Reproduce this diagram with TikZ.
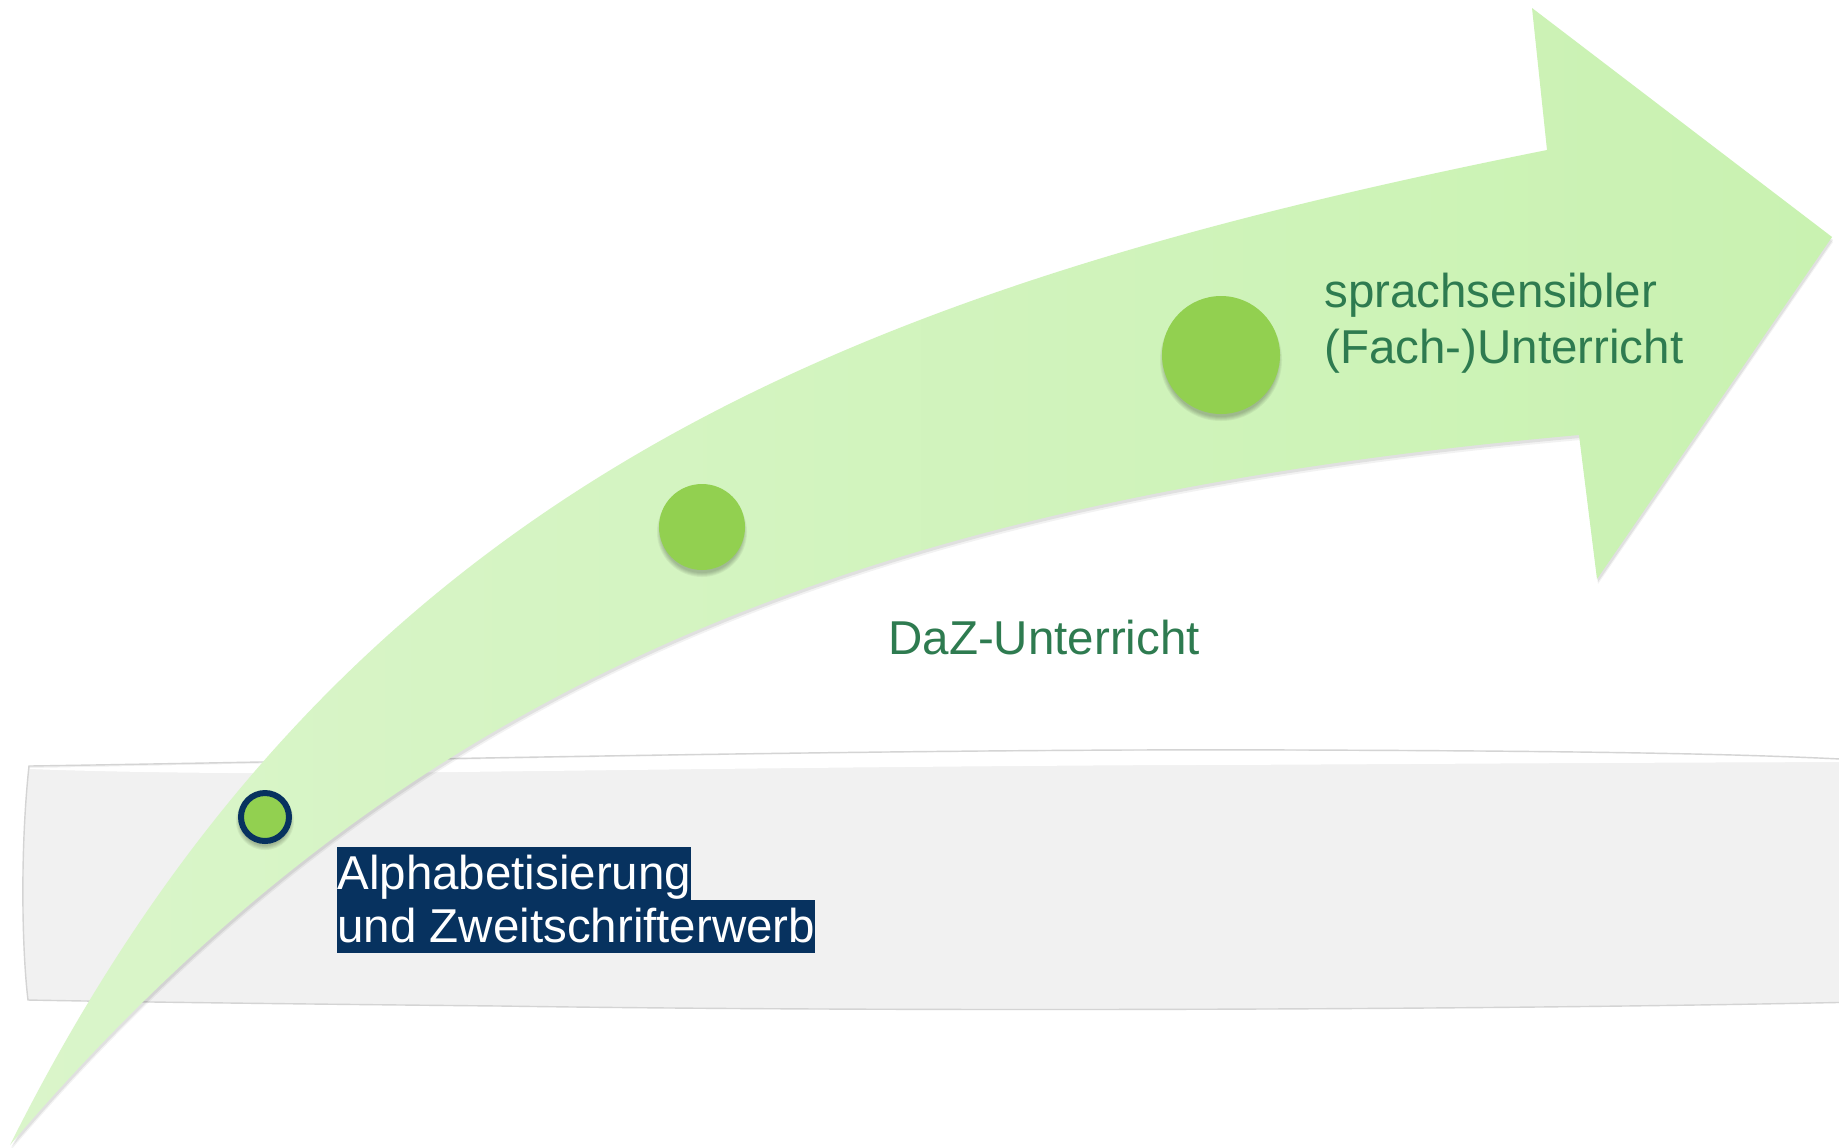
\documentclass[tikz,border=0pt]{standalone}
\usepackage{fontspec}
\setmainfont{Liberation Sans}
\definecolor{navy}{HTML}{07325F}
\definecolor{dotgreen}{HTML}{92D050}
\definecolor{txtgreen}{HTML}{2E7B50}
\definecolor{arrowA}{HTML}{DAF5CA}
\definecolor{arrowB}{HTML}{C9F2B1}
\definecolor{bandfill}{HTML}{F1F1F1}
\definecolor{bandline}{HTML}{D4D4D4}
\begin{document}
\begin{tikzpicture}[x=0.5pt,y=-0.5pt,
  lbl/.style={inner sep=0pt, text=txtgreen, font=\fontsize{23.75pt}{28pt}\selectfont, anchor=base west},
  hl/.style={inner sep=0pt, fill=navy, text=white, text height=21pt, text depth=5.5pt, font=\fontsize{23.75pt}{28pt}\selectfont, anchor=base west},
  dot/.style={circle, inner sep=0pt, fill=dotgreen},
  shade/.style={black, opacity=0.05}
]
\useasboundingbox (0,0) rectangle (1839,1147);
\clip (0,0) rectangle (1839,1147);
\fill[white] (0,0) rectangle (1839,1147);

% gray band
\draw[bandline, fill=bandfill, line width=0.7pt]
  (29,766) .. controls (300,762) and (900,748) .. (1300,750)
  .. controls (1600,751) and (1750,754) .. (1860,760)
  -- (1860,1002) .. controls (1500,1010) and (900,1012) .. (500,1006)
  .. controls (200,1003) and (80,1001) .. (28,1000)
  .. controls (22,950) and (20,850) .. (29,766) -- cycle;
\fill[white] (30,768) .. controls (300,763) and (900,749) .. (1300,751)
  .. controls (1600,752) and (1750,755) .. (1860,761)
  -- (1860,762) .. controls (1500,763) and (1300,765) .. (1173,765)
  .. controls (800,767) and (500,772) .. (352,773)
  .. controls (200,774) and (80,771) .. (30,769) -- cycle;

% arrow
\def\arrowpath{(10,1145) .. controls (340,485) and (847,290) .. (1547,150)
  -- (1532,8) -- (1832,237) -- (1597,579) -- (1579,435)
  .. controls (829,502) and (390,700) .. (10,1145) -- cycle}
\begin{scope}[shift={(1,3)}]
  \fill[black, opacity=0.07] \arrowpath;
\end{scope}
\begin{scope}[shift={(1,5)}]
  \fill[black, opacity=0.05] \arrowpath;
\end{scope}
\path[left color=arrowA, right color=arrowB] \arrowpath;

% dots with soft shadows
\foreach \dr in {2,1,0,-1,-2} {
  \fill[shade] (265,821) circle[radius=27+\dr];
  \fill[shade] (702,532) circle[radius=43+\dr];
  \fill[shade] (1221,360) circle[radius=59+\dr];
}
\node[dot, minimum size=24pt, draw=navy, line width=3pt] (d1) at (265,817) {};
\node[dot, minimum size=43pt] (d2) at (702,527) {};
\node[dot, minimum size=59pt] (d3) at (1221,355) {};

% labels
\node[lbl] (t1a) at (1324,307) {sprachsensibler};
\node[lbl] (t1b) at (1324,363) {(Fach-)Unterricht};
\node[lbl] (t2) at (888,654) {DaZ-Unterricht};
\node[hl] (t3a) at (337,889) {Alphabetisierung};
\node[hl] (t3b) at (337,942) {und Zweitschrifterwerb};
\end{tikzpicture}
\end{document}
